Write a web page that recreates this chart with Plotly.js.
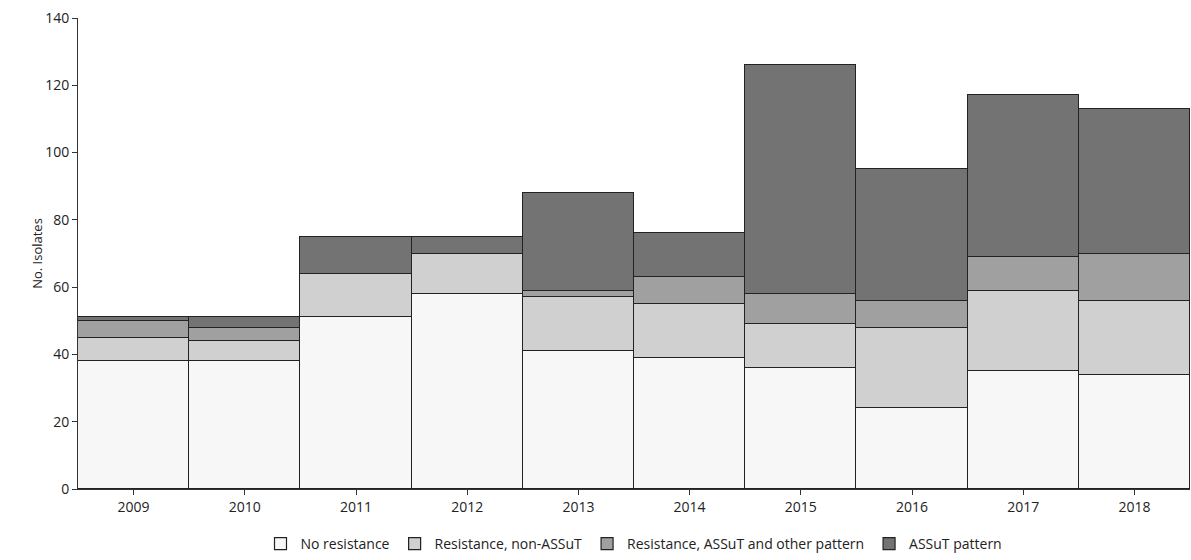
<html><head><script src="https://cdn.plot.ly/plotly-3.0.1.min.js"></script></head><body style="margin:0">
<div id="c" style="width:1191px;height:560px"></div>
<script>
const years=["2009","2010","2011","2012","2013","2014","2015","2016","2017","2018"];
const noRes=[38,38,51,58,41,39,36,24,35,34];
const nonASSuT=[7,6,13,12,16,16,13,24,24,22];
const assutOther=[5,4,0,0,2,8,9,8,10,14];
const assut=[1,3,11,5,29,13,68,39,48,43];
const names=["No resistance","Resistance, non-ASSuT","Resistance, ASSuT and other pattern","ASSuT pattern"];
const colors=["#f7f7f7","#d0d0d0","#a0a0a0","#737373"];
const data=[noRes,nonASSuT,assutOther,assut].map((v,i)=>({type:"bar",x:years,y:v,name:names[i],
 marker:{color:colors[i],line:{color:"#222",width:1.2}}}));
Plotly.newPlot("c",data,{barmode:"stack",bargap:0,plot_bgcolor:"#fff",paper_bgcolor:"#fff",
 margin:{l:78,r:1,t:18,b:71},font:{family:"Open Sans, Arial",size:14,color:"#222"},
 xaxis:{type:"category",showline:true,linecolor:"#333",ticks:"outside",ticklen:5,tickcolor:"#333"},
 yaxis:{range:[0,140],dtick:20,showline:true,linecolor:"#333",ticks:"outside",ticklen:5,tickcolor:"#333",showgrid:false,zeroline:false,
  title:{text:"No. Isolates",font:{size:13}}},
 legend:{orientation:"h",x:0.5,xanchor:"center",yref:"container",y:0,yanchor:"bottom",font:{size:14},traceorder:"normal"},
 showlegend:true},{displayModeBar:false});
</script></body></html>
